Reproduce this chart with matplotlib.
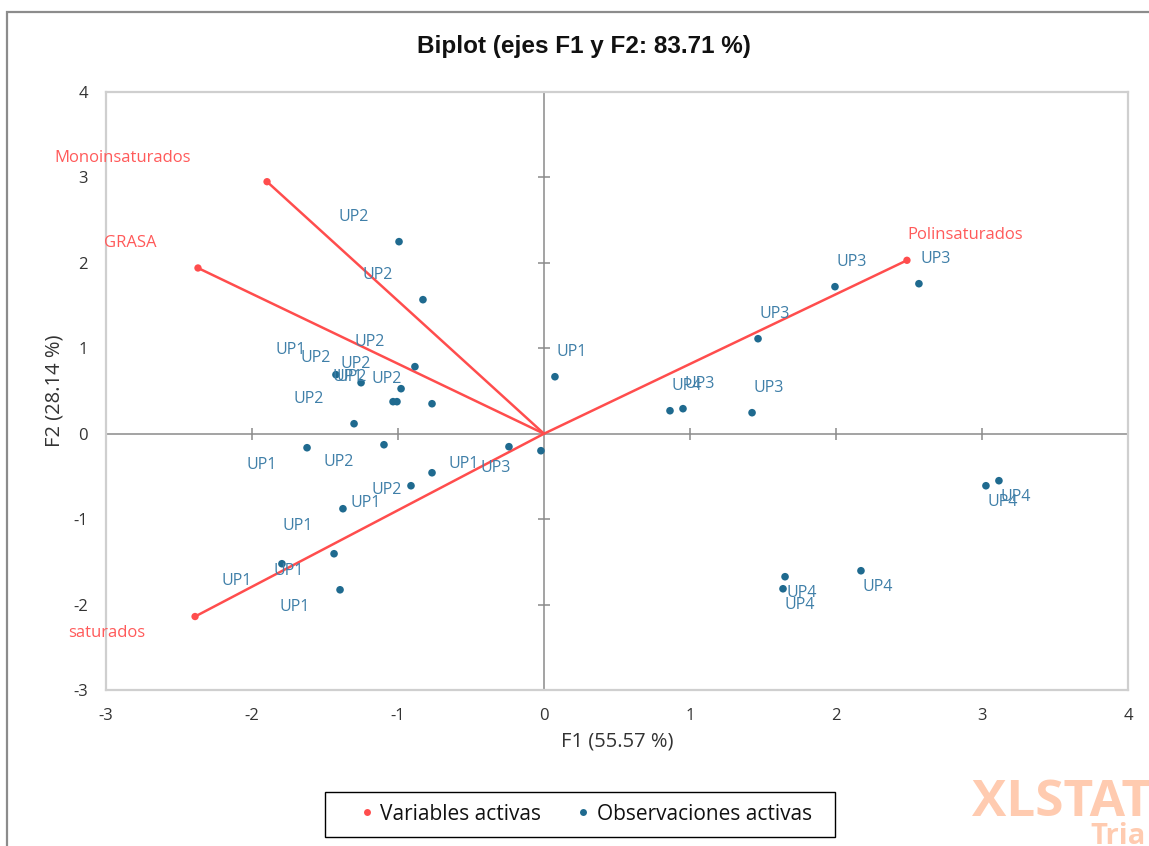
import matplotlib
matplotlib.use("Agg")
import matplotlib.pyplot as plt
from matplotlib.lines import Line2D
from matplotlib.patches import Rectangle

plt.rcParams["axes.unicode_minus"] = False

# ---------------- data ----------------
var_names = ["Monoinsaturados", "GRASA", "Polinsaturados", "saturados"]
var_x = [-1.897, -2.37, 2.486, -2.39]
var_y = [2.95, 1.94, 2.03, -2.14]

obs_labels = ["UP1", "UP1", "UP1", "UP1", "UP1", "UP1", "UP1", "UP1", "UP1", "UP1",
              "UP2", "UP2", "UP2", "UP2", "UP2", "UP2", "UP2", "UP2", "UP2", "UP2",
              "UP3", "UP3", "UP3", "UP3", "UP3", "UP3",
              "UP4", "UP4", "UP4", "UP4", "UP4", "UP4"]
obs_x = [0.075, -1.425, -1.034, -1.623, -0.240, -0.911, -1.377, -1.438, -1.795, -1.397,
         -0.993, -0.829, -0.884, -1.253, -0.979, -1.007, -0.767, -1.301, -1.096, -0.767,
         1.993, 2.568, 1.466, 0.952, 1.425, -0.021,
         0.863, 3.027, 3.116, 1.651, 1.637, 2.171]
obs_y = [0.667, 0.691, 0.375, -0.164, -0.152, -0.609, -0.878, -1.405, -1.522, -1.827,
         2.248, 1.569, 0.785, 0.597, 0.527, 0.375, 0.351, 0.117, -0.129, -0.457,
         1.721, 1.756, 1.112, 0.293, 0.246, -0.199,
         0.269, -0.609, -0.550, -1.674, -1.815, -1.604]

title = "Biplot (ejes F1 y F2: 83.71 %)"
xlabel = "F1 (55.57 %)"
ylabel = "F2 (28.14 %)"
xticks = [-3, -2, -1, 0, 1, 2, 3, 4]
yticks = [-3, -2, -1, 0, 1, 2, 3, 4]
legend_labels = ["Variables activas", "Observaciones activas"]

# ---------------- label placement (style) ----------------
obs_place = ["ar", "al", "al", "bl", "bl", "bl", "bl", "bl", "bl", "bl",
             "al", "al", "al", "al", "al", "al", "al", "al", "bl", "bl",
             "ar", "ar", "ar", "ar", "ar", "bl",
             "ar", "br", "br", "br", "br", "br"]
place_off = {"ar": (17, 25), "al": (-45, 25), "bl": (-45, -17), "br": (17, -16)}
var_off = [(-144, 24), (-68, 25), (58, 25), (-88, -16)]

RED = "#FF4D4D"
RED_TXT = "#FF5A5A"
BLUE = "#1F6A8F"
BLUE_TXT = "#3F7FA8"
FONT = ["Open Sans", "DejaVu Sans"]

W, H = 1149, 846
fig = plt.figure(figsize=(W / 100, H / 100), dpi=100)
fig.patch.set_facecolor("white")

# outer frame
fig.patches.append(Rectangle((7 / W, -0.1), 2.0, 1 - 12 / H + 0.1, transform=fig.transFigure,
                             fill=False, edgecolor="#8C8C8C", linewidth=1.6))

ax = fig.add_axes([106 / W, 1 - 690 / H, (1128 - 106) / W, (690 - 92) / H])
ax.set_xlim(-3, 4)
ax.set_ylim(-3, 4)
for s in ax.spines.values():
    s.set_color("#CFCFCF")
    s.set_linewidth(1.6)

ax.axhline(0, color="#8A8A8A", lw=1.1, zorder=1)
ax.axvline(0, color="#8A8A8A", lw=1.1, zorder=1)
tx = [t for t in xticks if t != 0]
ty = [t for t in yticks if t != 0]
ax.plot(tx, [0] * len(tx), ls="none", marker="|", ms=9, mew=1.1, color="#8A8A8A", zorder=1, clip_on=False)
ax.plot([0] * len(ty), ty, ls="none", marker="_", ms=9, mew=1.1, color="#8A8A8A", zorder=1, clip_on=False)

ax.set_xticks(xticks)
ax.set_yticks(yticks)
ax.tick_params(length=0, labelsize=12, colors="#333333", pad=13)
for lab in ax.get_xticklabels() + ax.get_yticklabels():
    lab.set_fontfamily(FONT)

# variable vectors
for vx, vy in zip(var_x, var_y):
    ax.plot([0, vx], [0, vy], color=RED, lw=1.8, zorder=3, solid_capstyle="round")
ax.scatter(var_x, var_y, s=28, color=RED, zorder=4, edgecolors="none")
for name, vx, vy, off in zip(var_names, var_x, var_y, var_off):
    ax.annotate(name, (vx, vy), xytext=off, textcoords="offset pixels",
                ha="center", va="center", fontsize=12, color=RED_TXT, family=FONT)

# observations
ax.scatter(obs_x, obs_y, s=30, color=BLUE, zorder=5, edgecolors="none")
for lab, ox, oy, p in zip(obs_labels, obs_x, obs_y, obs_place):
    ax.annotate(lab, (ox, oy), xytext=place_off[p], textcoords="offset pixels",
                ha="center", va="center", fontsize=11.5, color=BLUE_TXT, family=FONT, zorder=6)

ax.set_xlabel(xlabel, fontsize=14.5, color="#333333", family=FONT, labelpad=5)
ax.set_ylabel(ylabel, fontsize=14.5, color="#333333", family=FONT, labelpad=6)

fig.text(584 / W, 1 - 46 / H, title, ha="center", va="center", fontsize=17.5, fontweight="bold",
         family=["Liberation Sans Narrow", "Liberation Sans", "DejaVu Sans"], color="#111111")

# legend (box drawn separately)
fig.patches.append(Rectangle((325 / W, 1 - 837 / H), (835 - 325) / W, 45 / H,
                             transform=fig.transFigure, fill=False, edgecolor="#000000", linewidth=1.0))
handles = [Line2D([], [], ls="none", marker="o", ms=5, color=RED, mec="none"),
           Line2D([], [], ls="none", marker="o", ms=5, color=BLUE, mec="none")]
leg = fig.legend(handles, legend_labels, loc="center",
                 bbox_to_anchor=(586 / W, 1 - 814 / H), ncol=2, frameon=False,
                 prop={"family": FONT, "size": 15},
                 handlelength=0.6, handletextpad=0.33, columnspacing=1.75, borderpad=0.3,
                 borderaxespad=0)
for t in leg.get_texts():
    t.set_color("#111111")

# watermark
fig.text(972 / W, 1 - 803 / H, "XLSTAT", ha="left", va="center", fontsize=37, fontweight="bold",
         color="#FFCBB0", family=FONT)
fig.text(1090 / W, 1 - 836 / H, "Tria", ha="left", va="center", fontsize=21, fontweight="bold",
         color="#FFCBB0", family=FONT)

fig.savefig("out.png", dpi=100)
